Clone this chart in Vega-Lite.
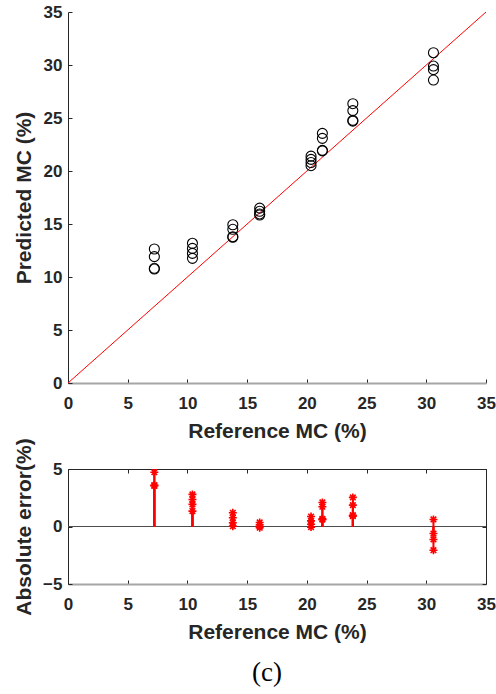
{
  "$schema": "https://vega.github.io/schema/vega-lite/v6.json",
  "background": "white",
  "padding": {"left": 12, "top": 3, "right": 5, "bottom": 5},
  "config": {
    "view": {"stroke": null},
    "font": "Liberation Sans",
    "axis": {
      "labelFont": "Liberation Sans", "labelFontSize": 17, "labelFontWeight": "bold", "labelColor": "#262626",
      "titleFont": "Liberation Sans", "titleFontSize": 21, "titleFontWeight": "bold", "titleColor": "#262626",
      "domainColor": "#262626", "tickColor": "#262626", "tickSize": -4, "grid": false, "labelPadding": 10,
      "labelFlush": false, "labelOverlap": false
    }
  },
  "datasets": {
    "diag": [{"ref": 0, "pred": 0}, {"ref": 35, "pred": 35}],
    "mc": [
      {"ref": 7.23, "pred": 12.64, "err": 5.4},
      {"ref": 7.23, "pred": 11.92, "err": 4.72},
      {"ref": 7.23, "pred": 10.82, "err": 3.6},
      {"ref": 7.23, "pred": 10.75, "err": 3.53},
      {"ref": 10.42, "pred": 13.18, "err": 2.79},
      {"ref": 10.42, "pred": 12.7, "err": 2.35},
      {"ref": 10.42, "pred": 12.23, "err": 1.92},
      {"ref": 10.42, "pred": 11.76, "err": 1.34},
      {"ref": 13.8, "pred": 14.93, "err": 1.19},
      {"ref": 13.8, "pred": 14.5, "err": 0.76},
      {"ref": 13.8, "pred": 13.8, "err": 0.32},
      {"ref": 13.8, "pred": 13.75, "err": 0.03},
      {"ref": 16.05, "pred": 16.5, "err": 0.35},
      {"ref": 16.05, "pred": 16.2, "err": 0.15},
      {"ref": 16.05, "pred": 15.95, "err": 0.0},
      {"ref": 16.05, "pred": 15.85, "err": -0.1},
      {"ref": 20.35, "pred": 21.4, "err": 0.87},
      {"ref": 20.35, "pred": 21.1, "err": 0.49},
      {"ref": 20.35, "pred": 20.8, "err": 0.2},
      {"ref": 20.35, "pred": 20.5, "err": -0.05},
      {"ref": 21.3, "pred": 23.55, "err": 2.09},
      {"ref": 21.3, "pred": 23.08, "err": 1.72},
      {"ref": 21.3, "pred": 21.95, "err": 0.66},
      {"ref": 21.3, "pred": 21.9, "err": 0.6},
      {"ref": 23.85, "pred": 26.35, "err": 2.53},
      {"ref": 23.85, "pred": 25.7, "err": 1.86},
      {"ref": 23.85, "pred": 24.78, "err": 0.98},
      {"ref": 23.85, "pred": 24.7, "err": 0.9},
      {"ref": 30.6, "pred": 31.16, "err": 0.61},
      {"ref": 30.6, "pred": 29.9, "err": -0.61},
      {"ref": 30.6, "pred": 29.56, "err": -1.13},
      {"ref": 30.6, "pred": 28.58, "err": -2.06}
    ]
  },
  "title": {
    "text": "(c)", "orient": "bottom", "anchor": "middle", "frame": "group", "dx": -10,
    "font": "Liberation Serif", "fontSize": 27, "fontWeight": "normal", "color": "#000000", "offset": 18
  },
  "spacing": -4,
  "vconcat": [
    {
      "width": 418,
      "height": 371,
      "encoding": {
        "x": {"field": "ref", "type": "quantitative",
          "scale": {"domain": [0, 35], "nice": false},
          "axis": {"values": [0, 5, 10, 15, 20, 25, 30, 35], "title": "Reference MC (%)", "domainColor": "#a6a6a6", "domainWidth": 2, "labelPadding": 16, "titlePadding": 9}},
        "y": {"field": "pred", "type": "quantitative",
          "scale": {"domain": [0, 35], "nice": false},
          "axis": {"values": [0, 5, 10, 15, 20, 25, 30, 35], "title": "Predicted MC (%)", "minExtent": 28, "maxExtent": 28, "titlePadding": 6}}
      },
      "layer": [
        {"data": {"name": "diag"}, "mark": {"type": "line", "color": "#ff0000", "strokeWidth": 1}},
        {"data": {"name": "mc"}, "mark": {"type": "point", "shape": "circle", "filled": false, "stroke": "#000000", "strokeWidth": 1.1, "size": 100, "opacity": 1}}
      ]
    },
    {
      "width": 418,
      "height": 115,
      "data": {"name": "mc"},
      "resolve": {"axis": {"x": "independent", "y": "independent"}},
      "layer": [
        {
          "mark": {"type": "rule", "color": "#4d4d4d", "strokeWidth": 1},
          "encoding": {"y": {"datum": 0, "type": "quantitative", "axis": null}}
        },
        {
          "mark": {"type": "rule", "color": "#ff0000", "strokeWidth": 2, "clip": true},
          "encoding": {
            "x": {"field": "ref", "type": "quantitative", "axis": null},
            "y": {"field": "err", "type": "quantitative", "axis": null},
            "y2": {"datum": 0}
          }
        },
        {
          "mark": {"type": "point", "shape": "M-1,0L1,0M0,-1L0,1M-0.7,-0.7L0.7,0.7M-0.7,0.7L0.7,-0.7", "filled": false, "stroke": "#ff0000", "strokeWidth": 1.6, "size": 64, "opacity": 1, "clip": true},
          "encoding": {
            "x": {"field": "ref", "type": "quantitative",
              "scale": {"domain": [0, 35], "nice": false},
              "axis": {"values": [0, 5, 10, 15, 20, 25, 30, 35], "title": "Reference MC (%)", "domainColor": "#a6a6a6", "domainWidth": 2, "labelPadding": 16, "titlePadding": 9}},
            "y": {"field": "err", "type": "quantitative",
              "scale": {"domain": [-5, 5], "nice": false},
              "axis": {"values": [-5, 0, 5], "title": "Absolute error(%)", "minExtent": 28, "maxExtent": 28, "titlePadding": 6}}
          }
        },
        {
          "mark": {"type": "point", "opacity": 0},
          "encoding": {
            "x": {"field": "ref", "type": "quantitative",
              "axis": {"orient": "top", "values": [0, 5, 10, 15, 20, 25, 30, 35], "labels": false, "title": null}},
            "y": {"field": "err", "type": "quantitative",
              "axis": {"orient": "right", "values": [-5, 0, 5], "labels": false, "title": null, "minExtent": 0, "maxExtent": 0}}
          }
        }
      ]
    }
  ]
}
